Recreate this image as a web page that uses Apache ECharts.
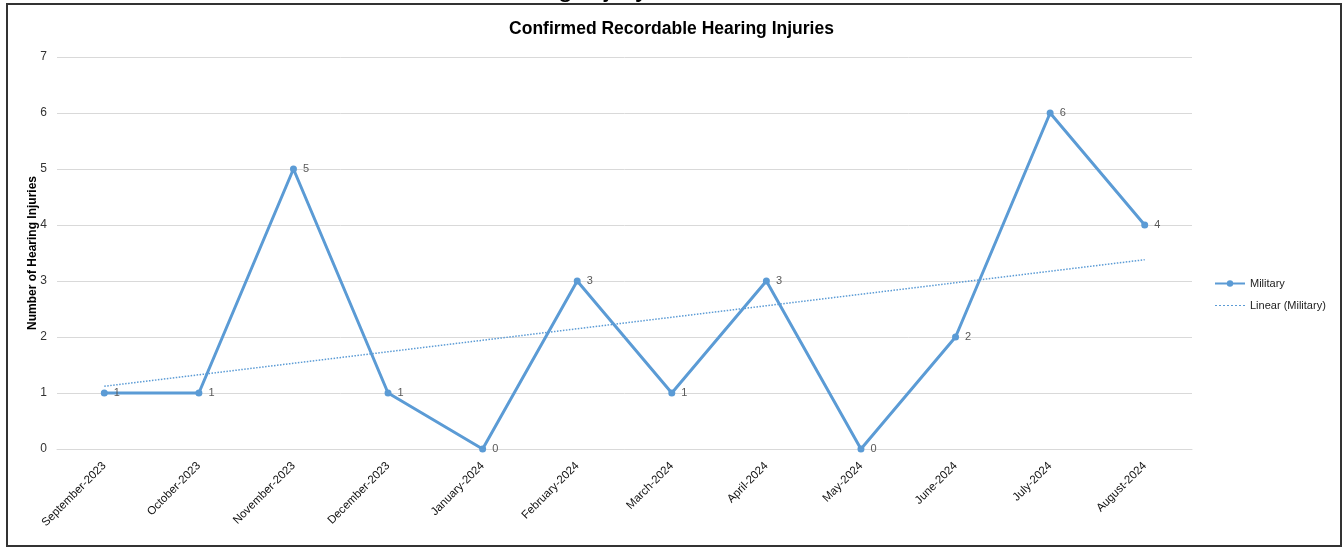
<!DOCTYPE html>
<html>
<head>
<meta charset="utf-8">
<script src="https://cdn.jsdelivr.net/npm/echarts@6/dist/echarts.min.js"></script>
<style>
  html, body { margin: 0; padding: 0; background: #fff; }
  #main { width: 1343px; height: 548px; }
</style>
</head>
<body>
<div id="main"></div>
<script>
var months = ['September-2023', 'October-2023', 'November-2023', 'December-2023',
    'January-2024', 'February-2024', 'March-2024', 'April-2024',
    'May-2024', 'June-2024', 'July-2024', 'August-2024'];
var military = [1, 1, 5, 1, 0, 3, 1, 3, 0, 2, 6, 4];
// trend line ends
var trendStart = 1.12;
var trendEnd = 3.38;

var blue = '#5B9BD5';
var font = '"Liberation Sans", Arial, sans-serif';

var myChart = echarts.init(document.getElementById('main'));

var option = {
    textStyle: { fontFamily: font },
    title: {
        text: 'Confirmed Recordable Hearing Injuries',
        left: 'center',
        top: 15,
        textStyle: { fontFamily: font, fontSize: 17.5, fontWeight: 'bold', color: '#000' }
    },
    legend: {
        orient: 'vertical',
        left: 1209,
        top: 273,
        itemWidth: 30,
        itemHeight: 8,
        itemGap: 11,
        textStyle: { fontFamily: font, fontSize: 11, color: '#222' },
        data: [
            'Military',
            {
                name: 'Linear (Military)',
                icon: 'path://M0,0H2V1H0Z M4,0H6V1H4Z M8,0H10V1H8Z M12,0H14V1H12Z M16,0H18V1H16Z M20,0H22V1H20Z M24,0H26V1H24Z M28,0H30V1H28Z'
            }
        ]
    },
    grid: {
        left: 57,
        right: 151,
        top: 57,
        bottom: 99
    },
    xAxis: {
        type: 'category',
        data: months,
        boundaryGap: true,
        axisLine: { lineStyle: { color: '#d9d9d9' } },
        axisTick: { show: false },
        axisLabel: { rotate: 45, fontSize: 11.5, color: '#111', fontFamily: font, margin: 15 }
    },
    yAxis: {
        type: 'value',
        min: 0,
        max: 7,
        interval: 1,
        name: 'Number of Hearing Injuries',
        nameLocation: 'middle',
        nameGap: 18,
        nameMoveOverlap: false,
        nameTextStyle: { fontFamily: font, fontSize: 12, fontWeight: 'bold', color: '#000' },
        axisLine: { show: false },
        axisTick: { show: false },
        axisLabel: { fontSize: 12, color: '#333', fontFamily: font, margin: 10 },
        splitLine: { lineStyle: { color: '#d9d9d9' } }
    },
    series: [
        {
            name: 'Military',
            type: 'line',
            data: military,
            color: blue,
            symbol: 'circle',
            symbolSize: 7,
            lineStyle: { width: 3, color: blue },
            itemStyle: { color: blue },
            label: {
                show: true,
                position: 'right',
                distance: 6,
                fontSize: 11,
                color: '#595959',
                fontFamily: font
            },
            z: 3
        },
        {
            name: 'Linear (Military)',
            type: 'line',
            data: [[months[0], trendStart], [months[months.length - 1], trendEnd]],
            color: blue,
            symbol: 'none',
            silent: true,
            lineStyle: { width: 1.5, type: 'dotted', color: blue },
            z: 2
        }
    ],
    graphic: [
        {
            type: 'text',
            x: 475,
            y: 2,
            silent: true,
            style: { text: 'Hearing Injury', fontSize: 28, fontFamily: font, fill: '#000', verticalAlign: 'bottom' }
        },
        {
            type: 'rect',
            shape: { x: 7, y: 4, width: 1334, height: 542 },
            style: { fill: null, stroke: '#333', lineWidth: 2 },
            silent: true
        }
    ]
};

myChart.setOption(option);
</script>
</body>
</html>
